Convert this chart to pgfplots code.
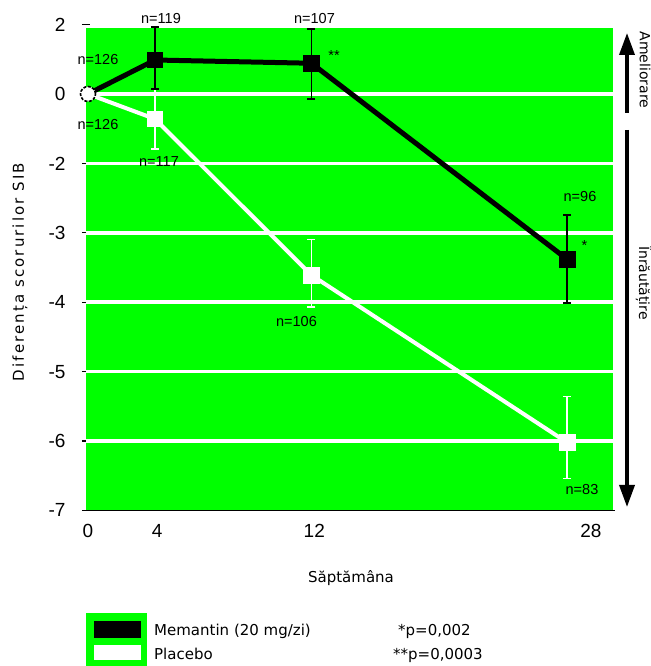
\documentclass[border=0pt]{standalone}
\usepackage{pgfplots}
\pgfplotsset{compat=1.18}
\usepackage{pgfplotstable}
\usepackage{fontspec}
\usetikzlibrary{arrows.meta}
\setmainfont{DejaVu Sans}
\newfontfamily\arialfont{Liberation Sans}
\definecolor{plotgreen}{RGB}{0,255,0}

% SIB change from baseline, in axis units (one tick step = 1 unit;
% the ticks read 2, 0, -2, -3, ..., -7), with error bars +/-
\pgfplotstableread{
x      y      ep    em
0      0      0     0
3.73   0.49   0.475 0.42
12.44  0.443  0.49  0.52
26.67  -2.38  0.64  0.63
}\memantin
\pgfplotstableread{
x      y      ep    em
0      0      0     0
3.73   -0.36  0.43  0.43
12.44  -2.61  0.51  0.46
26.67  -5.02  0.66  0.52
}\placebo

\begin{document}
\begin{tikzpicture}[x=1pt,y=1pt]
\useasboundingbox (0,0) rectangle (650,666);
\begin{axis}[
  at={(86pt,155.6pt)}, anchor=south west,
  scale only axis, width=527pt, height=485.8pt,
  xmin=-0.111, xmax=29.23,
  ymin=-6, ymax=1,
  axis line style={draw=none},
  clip=false,
  xtick={0,3.85,12.6,28}, xticklabels={0,4,12,28},
  ytick={1,0,-1,-2,-3,-4,-5,-6}, yticklabels={2,0,-2,-3,-4,-5,-6,-7},
  ytick pos=left, xtick style={draw=none},
  ytick style={black, line width=1.2pt},
  tick align=center, major tick length=8pt,
  tick label style={font=\arialfont\fontsize{19}{22}\selectfont},
  yticklabel style={xshift=-13pt},
  xticklabel style={yshift=-6pt},
]
\fill[plotgreen] (rel axis cs:0,0) rectangle (rel axis cs:1,0.993);
% white horizontal grid lines
\draw[white, line width=3.5pt] (axis cs:-0.111,0) -- (axis cs:29.23,0);
\draw[white, line width=3.5pt] (axis cs:-0.111,-1) -- (axis cs:29.23,-1);
\draw[white, line width=3.5pt] (axis cs:-0.111,-2) -- (axis cs:29.23,-2);
\draw[white, line width=3.5pt] (axis cs:-0.111,-3) -- (axis cs:29.23,-3);
\draw[white, line width=3.5pt] (axis cs:-0.111,-4) -- (axis cs:29.23,-4);
\draw[white, line width=3.5pt] (axis cs:-0.111,-5) -- (axis cs:29.23,-5);
\draw[black, line width=1.6pt] (rel axis cs:0,0) -- (rel axis cs:1.003,0);

\addplot[white, line width=4pt, mark=square*, mark indices={2,3,4},
  mark size=7.8pt, mark options={solid, line width=0.6pt, fill=white},
  error bars/.cd, y dir=both, y explicit,
  error bar style={white, line width=1.5pt},
  error mark options={rotate=90, white, line width=1.5pt, mark size=4pt}]
  table[x=x, y=y, y error plus=ep, y error minus=em] {\placebo};

\addplot[black, line width=5pt, mark=square*, mark indices={2,3,4},
  mark size=7.8pt, mark options={solid, line width=0.6pt, fill=black},
  error bars/.cd, y dir=both, y explicit,
  error bar style={black, line width=1.8pt},
  error mark options={rotate=90, black, line width=1.8pt, mark size=4pt}]
  table[x=x, y=y, y error plus=ep, y error minus=em] {\memantin};

\addplot[only marks, mark=*, mark size=7.5pt,
  mark options={fill=white, draw=black, line width=1.6pt, dash pattern=on 3pt off 1.5pt}]
  coordinates {(0,0)};
\end{axis}

% group sizes and significance marks
\begin{scope}[every node/.style={font=\arialfont\fontsize{14.5}{17}\selectfont, inner sep=0pt, anchor=base}]
\node at (98,666-65) {n=126};
\node at (98,666-130) {n=126};
\node at (161,666-24) {n=119};
\node at (314.5,666-24) {n=107};
\node at (580,666-202) {n=96};
\node at (159,666-167) {n=117};
\node at (296.5,666-327) {n=106};
\node at (582,666-495) {n=83};
\node at (334,666-61) {**};
\node at (584.5,666-251) {*};
\end{scope}

% axis titles
\node[rotate=90, font=\fontsize{15}{18}\selectfont\addfontfeatures{LetterSpace=14}, inner sep=0pt] at (20,666-272) {Diferența scorurilor SIB};
\node[font=\fontsize{15}{18}\selectfont, inner sep=0pt, anchor=base] at (351,666-583) {Săptămâna};

% direction arrows
\draw[-{Triangle[width=15pt,length=22pt]}, line width=3.5pt] (627,666-113) -- (627,666-33);
\draw[-{Triangle[width=15pt,length=22pt]}, line width=3.5pt] (627,666-130) -- (627,666-507);
\node[rotate=-90, font=\fontsize{14}{17}\selectfont, inner sep=0pt] at (645,666-70) {Ameliorare};
\node[rotate=-90, font=\fontsize{14}{17}\selectfont, inner sep=0pt] at (644,666-283) {Înrăutățire};

% legend
\fill[plotgreen] (86,666-613) rectangle (147,0);
\fill[black] (94,666-621) rectangle (141,666-638);
\fill[white] (94,666-645) rectangle (141,666-660);
\begin{scope}[every node/.style={font=\fontsize{15}{18}\selectfont, inner sep=0pt, anchor=base west}]
\node at (154,666-636) {Memantin (20 mg/zi)};
\node at (154,666-660) {Placebo};
\node at (398,666-636) {*p=0,002};
\node at (393,666-660) {**p=0,0003};
\end{scope}
\end{tikzpicture}
\end{document}
